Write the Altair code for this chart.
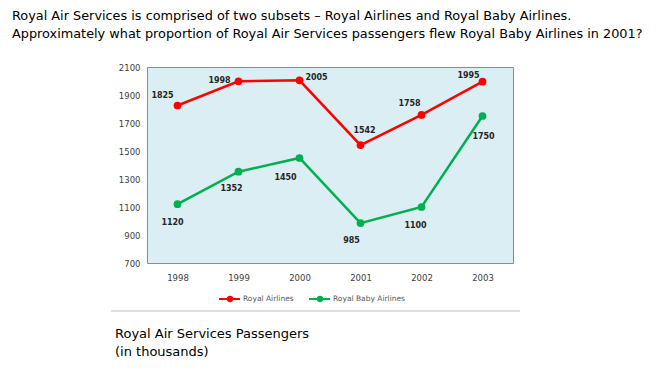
import altair as alt
import pandas as pd

# ---- data ----
years = ["1998", "1999", "2000", "2001", "2002", "2003"]
royal_airlines = [1825, 1998, 2005, 1542, 1758, 1995]
royal_baby_airlines = [1120, 1352, 1450, 985, 1100, 1750]
series_names = ["Royal Airlines", "Royal Baby Airlines"]
series_colors = ["#FF0000", "#00B050"]
y_tick_values = [700, 900, 1100, 1300, 1500, 1700, 1900, 2100]

question_lines = [
    "Royal Air Services is comprised of two subsets \u2013 Royal Airlines and Royal Baby Airlines.",
    "Approximately what proportion of Royal Air Services passengers flew Royal Baby Airlines in 2001?",
]
caption_lines = ["Royal Air Services Passengers", "(in thousands)"]

df = pd.DataFrame({
    "year": years * 2,
    "value": royal_airlines + royal_baby_airlines,
    "series": [series_names[0]] * len(years) + [series_names[1]] * len(years),
})

# ---- label placement (style, not data) ----
label_offsets = {
    (series_names[0], "1998"): (-15, -10),
    (series_names[0], "1999"): (-19, 0),
    (series_names[0], "2000"): (17, -2),
    (series_names[0], "2001"): (4, -14),
    (series_names[0], "2002"): (-12, -11),
    (series_names[0], "2003"): (-14, -6),
    (series_names[1], "1998"): (-5, 19),
    (series_names[1], "1999"): (-7, 17),
    (series_names[1], "2000"): (-14, 20),
    (series_names[1], "2001"): (-9, 18),
    (series_names[1], "2002"): (-6, 19),
    (series_names[1], "2003"): (1, 21),
}

FONT = "DejaVu Sans"
W, H = 366, 196

x_enc = alt.X(
    "year:O",
    scale=alt.Scale(type="point", padding=0.5),
    axis=alt.Axis(title=None, labelAngle=0, ticks=False, domain=False,
                  labelPadding=10, labelFontSize=8.5, labelColor="#404040",
                  labelFont=FONT),
)
y_enc = alt.Y(
    "value:Q",
    scale=alt.Scale(domain=[700, 2100], nice=False, zero=False),
    axis=alt.Axis(title=None, values=y_tick_values, format="d", grid=False,
                  ticks=False, domain=False, labelPadding=7, labelFontSize=8.5,
                  labelColor="#404040", labelFont=FONT),
)
color_enc = alt.Color(
    "series:N",
    scale=alt.Scale(domain=series_names, range=series_colors),
    legend=None,
)

base = alt.Chart(df).encode(x=x_enc, y=y_enc, color=color_enc)
lines = base.mark_line(strokeWidth=2.5)
points = base.mark_circle(size=60, opacity=1)

label_layers = []
for (s, yr), (dx, dy) in label_offsets.items():
    label_layers.append(
        alt.Chart(df)
        .transform_filter((alt.datum.series == s) & (alt.datum.year == yr))
        .mark_text(dx=dx, dy=dy, fontSize=8, fontWeight="bold", color="#262626",
                   font=FONT, baseline="middle", align="center")
        .encode(x=x_enc, y=y_enc, text=alt.Text("value:Q", format="d"))
    )

one = pd.DataFrame({"a": [0]})

def free_text(txt, xv, yv, size, color="#000000", font=FONT):
    return alt.Chart(one).mark_text(
        text=txt, align="left", baseline="middle", fontSize=size,
        color=color, font=font,
    ).encode(x=alt.value(xv), y=alt.value(yv))

extras = [
    free_text(question_lines[0], -135, -51, 12.85),
    free_text(question_lines[1], -135, -33, 12.85),
    # legend
    alt.Chart(one).mark_rule(color=series_colors[0], strokeWidth=2).encode(
        x=alt.value(72), x2=alt.value(93), y=alt.value(232)),
    alt.Chart(one).mark_circle(color=series_colors[0], size=40, opacity=1).encode(
        x=alt.value(83), y=alt.value(232)),
    free_text(series_names[0], 96, 232, 7.5, "#595959"),
    alt.Chart(one).mark_rule(color=series_colors[1], strokeWidth=2).encode(
        x=alt.value(162), x2=alt.value(183), y=alt.value(232)),
    alt.Chart(one).mark_circle(color=series_colors[1], size=40, opacity=1).encode(
        x=alt.value(173), y=alt.value(232)),
    free_text(series_names[1], 186, 232, 7.5, "#595959"),
    # separator
    alt.Chart(one).mark_rule(color="#BFBFBF", strokeWidth=1).encode(
        x=alt.value(-36), x2=alt.value(373), y=alt.value(244)),
    free_text(caption_lines[0], -32, 267, 13),
    free_text(caption_lines[1], -32, 285, 13),
]

chart = alt.layer(lines, points, *label_layers, *extras).properties(
    width=W,
    height=H,
    autosize=alt.AutoSizeParams(type="none"),
    padding={"left": 139, "top": 59, "right": 644 - 139 - W, "bottom": 354 - 59 - H},
    background="white",
).configure_view(fill="#DAEEF3", stroke="#8C8C8C", strokeWidth=1)

chart.save("out.html", embed_options={"renderer": "svg", "actions": False})
